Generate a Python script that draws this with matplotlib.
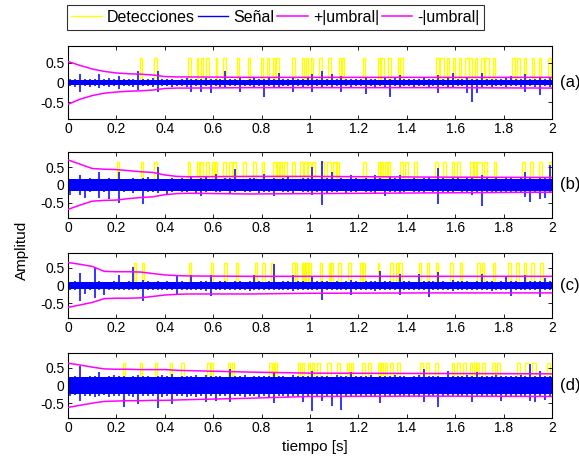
import numpy as np
import matplotlib
matplotlib.use("Agg")
import matplotlib.pyplot as plt

plt.rcParams['font.family'] = ['Liberation Sans', 'DejaVu Sans']

# ---------------- data ----------------
PANEL_LABELS = ["(a)", "(b)", "(c)", "(d)"]
X_TICKS = [0, 0.2, 0.4, 0.6, 0.8, 1, 1.2, 1.4, 1.6, 1.8, 2]
Y_TICKS = [-0.5, 0, 0.5]
LEGEND_LABELS = ["Detecciones", "Señal", "+|umbral|", "-|umbral|"]
DET_LEVEL = 0.63
BIN_W = 0.02  # width of one envelope bin [s]

# dense noise core of the signal (+/-) per panel
CORE = [0.075, 0.16, 0.10, 0.24]

# signal envelope per 0.02 s bin (hundredths): max and |min|
A_HI = [9, 10, 22, 9, 10, 8, 21, 9, 11, 8, 17, 8, 10, 9, 28, 10, 8, 12, 28, 9,
        8, 10, 7, 9, 12, 10, 8, 9, 11, 8, 10, 9, 28, 8, 10, 12, 7, 9, 11, 8,
        10, 14, 9, 25, 8, 10, 15, 9, 8, 11, 22, 9, 28, 10, 22, 8, 17, 9, 10, 8,
        9, 12, 8, 10, 7, 11, 9, 12, 20, 9, 8, 10, 9, 11, 8, 10, 20, 9, 11, 24,
        9, 10, 12, 9, 10, 25, 9, 8, 10, 9, 11, 17, 9, 10, 22, 8, 10, 12, 9, 15]
A_LO = [10, 11, 23, 10, 12, 9, 13, 10, 11, 9, 17, 10, 9, 11, 19, 9, 10, 12, 23, 10,
        9, 11, 8, 10, 12, 25, 9, 25, 10, 27, 9, 11, 13, 9, 10, 23, 8, 10, 12, 9,
        36, 10, 11, 13, 9, 10, 25, 9, 11, 10, 23, 10, 12, 9, 13, 10, 25, 9, 11, 10,
        9, 29, 10, 11, 9, 12, 36, 10, 11, 9, 10, 12, 9, 10, 11, 9, 27, 10, 12, 11,
        9, 10, 27, 50, 27, 11, 10, 12, 9, 10, 11, 10, 9, 12, 23, 10, 11, 31, 10, 12]
B_HI = [18, 16, 27, 17, 19, 16, 35, 18, 20, 17, 35, 18, 16, 20, 17, 19, 21, 16, 50, 18,
        17, 19, 16, 20, 18, 26, 17, 19, 21, 18, 30, 17, 19, 20, 45, 18, 17, 20, 19, 16,
        32, 18, 20, 17, 19, 22, 18, 17, 20, 19, 50, 18, 67, 19, 36, 18, 20, 17, 28, 19,
        18, 20, 17, 29, 19, 18, 21, 19, 29, 18, 17, 20, 18, 19, 21, 18, 47, 19, 17, 20,
        19, 18, 21, 19, 18, 27, 19, 17, 20, 18, 19, 21, 18, 20, 36, 19, 18, 20, 19, 55]
B_LO = [29, 18, 27, 36, 19, 17, 36, 20, 39, 18, 50, 19, 17, 21, 18, 52, 19, 20, 22, 18,
        27, 19, 17, 20, 19, 18, 21, 31, 19, 18, 20, 19, 17, 21, 19, 18, 20, 19, 18, 22,
        20, 19, 31, 18, 20, 19, 21, 18, 20, 19, 27, 20, 56, 21, 19, 20, 18, 21, 19, 20,
        18, 20, 19, 21, 18, 31, 19, 20, 22, 19, 18, 20, 19, 21, 18, 20, 53, 19, 21, 20,
        18, 20, 19, 28, 21, 59, 20, 19, 21, 20, 19, 21, 20, 19, 33, 47, 20, 40, 35, 21]
C_HI = [10, 12, 35, 11, 9, 49, 12, 10, 11, 13, 29, 10, 12, 52, 11, 15, 13, 10, 12, 11,
        13, 10, 31, 12, 11, 29, 10, 12, 14, 29, 11, 13, 12, 10, 14, 12, 11, 13, 29, 12,
        10, 13, 61, 11, 12, 14, 31, 12, 13, 11, 25, 12, 14, 13, 11, 12, 10, 13, 15, 12,
        11, 13, 12, 14, 41, 12, 13, 11, 33, 12, 14, 11, 33, 12, 13, 14, 38, 12, 11, 15,
        13, 12, 14, 11, 13, 33, 12, 14, 11, 13, 27, 12, 14, 11, 29, 13, 12, 14, 20, 12]
C_LO = [12, 13, 44, 25, 12, 35, 13, 27, 12, 14, 13, 12, 14, 13, 12, 45, 13, 12, 14, 13,
        12, 14, 26, 13, 12, 14, 13, 12, 15, 30, 12, 14, 13, 12, 14, 13, 12, 15, 13, 12,
        14, 13, 12, 14, 13, 12, 15, 13, 12, 14, 13, 12, 42, 13, 12, 14, 13, 12, 28, 13,
        14, 12, 13, 15, 12, 14, 13, 12, 26, 13, 12, 14, 13, 12, 32, 13, 14, 12, 13, 15,
        12, 14, 13, 12, 14, 13, 12, 15, 13, 12, 14, 30, 13, 12, 14, 13, 12, 32, 13, 14]
D_HI = [25, 27, 56, 24, 28, 26, 38, 25, 27, 29, 26, 28, 25, 27, 30, 26, 28, 25, 27, 29,
        26, 33, 25, 28, 26, 27, 29, 25, 30, 27, 26, 28, 25, 47, 27, 26, 29, 25, 28, 27,
        26, 28, 38, 26, 27, 25, 29, 26, 28, 27, 40, 26, 28, 27, 25, 29, 27, 26, 38, 28,
        26, 27, 29, 25, 28, 26, 27, 29, 26, 28, 25, 27, 29, 47, 26, 28, 27, 25, 40, 28,
        26, 27, 29, 26, 38, 27, 28, 26, 29, 27, 26, 28, 27, 29, 26, 61, 28, 40, 26, 28]
D_LO = [30, 28, 44, 31, 29, 32, 30, 28, 33, 31, 29, 62, 30, 32, 51, 29, 31, 30, 65, 32,
        29, 53, 31, 30, 33, 29, 32, 30, 48, 31, 45, 30, 29, 46, 31, 30, 32, 29, 31, 33,
        30, 32, 50, 31, 30, 32, 29, 31, 46, 30, 71, 31, 45, 30, 57, 32, 69, 31, 33, 30,
        32, 31, 29, 33, 50, 31, 30, 32, 29, 31, 33, 30, 32, 46, 31, 29, 62, 32, 30, 31,
        33, 30, 32, 48, 31, 29, 32, 30, 31, 43, 30, 32, 31, 29, 33, 45, 46, 31, 40, 32]

# threshold knots
T_KNOTS = [0, 0.05, 0.1, 0.15, 0.2, 0.25, 0.3, 0.35, 0.4, 0.45, 0.5, 0.75, 1.0, 1.5, 2.0]
A_UP = [0.53, 0.43, 0.34, 0.28, 0.24, 0.22, 0.21, 0.19, 0.15, 0.14, 0.14, 0.13, 0.13, 0.13, 0.13]
A_DN = [-0.55, -0.42, -0.33, -0.27, -0.24, -0.22, -0.21, -0.19, -0.15, -0.14, -0.14, -0.13, -0.13, -0.13, -0.14]
B_UP = [0.70, 0.58, 0.46, 0.44, 0.43, 0.40, 0.37, 0.35, 0.28, 0.24, 0.23, 0.24, 0.24, 0.22, 0.21]
B_DN = [-0.68, -0.56, -0.45, -0.43, -0.42, -0.38, -0.35, -0.33, -0.27, -0.24, -0.23, -0.25, -0.24, -0.22, -0.20]
C_UP = [0.65, 0.60, 0.54, 0.40, 0.39, 0.39, 0.38, 0.34, 0.30, 0.28, 0.27, 0.26, 0.26, 0.26, 0.26]
C_DN = [-0.62, -0.55, -0.48, -0.37, -0.36, -0.36, -0.35, -0.31, -0.27, -0.25, -0.24, -0.24, -0.22, -0.21, -0.21]
D_UP = [0.63, 0.58, 0.52, 0.47, 0.46, 0.46, 0.45, 0.45, 0.45, 0.43, 0.42, 0.38, 0.35, 0.34, 0.33]
D_DN = [-0.62, -0.56, -0.50, -0.45, -0.44, -0.43, -0.43, -0.42, -0.42, -0.41, -0.40, -0.36, -0.31, -0.30, -0.31]

# detection intervals (start, end) [s]
A_DET = [(0.297, 0.306), (0.356, 0.366), (0.494, 0.510), (0.531, 0.539), (0.548, 0.559),
         (0.572, 0.581), (0.610, 0.617), (0.641, 0.651), (0.697, 0.708), (0.742, 0.752),
         (0.799, 0.807), (0.823, 0.832), (0.846, 0.855), (0.859, 0.870), (0.927, 0.937),
         (0.966, 0.975), (0.982, 0.993), (1.003, 1.014), (1.039, 1.048), (1.073, 1.086),
         (1.119, 1.130), (1.132, 1.141), (1.221, 1.229), (1.279, 1.290), (1.294, 1.306),
         (1.324, 1.334), (1.363, 1.370), (1.372, 1.386), (1.521, 1.531), (1.538, 1.552),
         (1.566, 1.575), (1.590, 1.600), (1.614, 1.625), (1.641, 1.655), (1.659, 1.669),
         (1.683, 1.692), (1.706, 1.717), (1.722, 1.738), (1.757, 1.766), (1.834, 1.848),
         (1.855, 1.866), (1.883, 1.892), (1.917, 1.927), (1.948, 1.956), (1.985, 1.995)]
B_DET = [(0.203, 0.211), (0.301, 0.310), (0.356, 0.366), (0.497, 0.506), (0.531, 0.540),
         (0.546, 0.556), (0.572, 0.584), (0.593, 0.602), (0.606, 0.614), (0.640, 0.652),
         (0.667, 0.676), (0.683, 0.695), (0.724, 0.735), (0.765, 0.777), (0.800, 0.810),
         (0.848, 0.858), (0.862, 0.872), (0.876, 0.886), (0.892, 0.904), (0.924, 0.936),
         (0.959, 0.970), (0.976, 0.986), (0.993, 1.003), (1.008, 1.021), (1.045, 1.056),
         (1.072, 1.086), (1.097, 1.107), (1.111, 1.121), (1.221, 1.231), (1.279, 1.290),
         (1.293, 1.300), (1.310, 1.318), (1.322, 1.331), (1.372, 1.386), (1.393, 1.407),
         (1.431, 1.444), (1.517, 1.530), (1.548, 1.560), (1.586, 1.596), (1.607, 1.618),
         (1.662, 1.675), (1.679, 1.686), (1.690, 1.710), (1.717, 1.731), (1.759, 1.770),
         (1.876, 1.890), (1.910, 1.922), (1.945, 1.957), (1.988, 2.0)]
C_DET = [(0.272, 0.280), (0.305, 0.314), (0.501, 0.509), (0.590, 0.599), (0.646, 0.655),
         (0.694, 0.703), (0.772, 0.782), (0.803, 0.812), (0.837, 0.846), (0.927, 0.936),
         (0.938, 0.945), (0.966, 0.972), (0.975, 0.980), (0.984, 0.990), (0.995, 1.003),
         (1.041, 1.051), (1.077, 1.084), (1.087, 1.094), (1.117, 1.127), (1.157, 1.168),
         (1.207, 1.216), (1.220, 1.229), (1.279, 1.287), (1.331, 1.341), (1.356, 1.362),
         (1.366, 1.379), (1.451, 1.459), (1.483, 1.492), (1.520, 1.528), (1.579, 1.589),
         (1.618, 1.628), (1.692, 1.701), (1.710, 1.721), (1.756, 1.766), (1.818, 1.830),
         (1.851, 1.862), (1.883, 1.892), (1.913, 1.924), (1.952, 1.961)]
D_DET = [(0.228, 0.237), (0.297, 0.307), (0.359, 0.369), (0.421, 0.431), (0.469, 0.479),
         (0.575, 0.586), (0.590, 0.600), (0.662, 0.671), (0.676, 0.685), (0.831, 0.841),
         (0.845, 0.853), (0.856, 0.865), (0.949, 0.958), (0.965, 0.976), (0.990, 1.000),
         (1.007, 1.017), (1.028, 1.041), (1.072, 1.086), (1.110, 1.124), (1.152, 1.162),
         (1.168, 1.179), (1.214, 1.228), (1.241, 1.251), (1.280, 1.290), (1.294, 1.303),
         (1.310, 1.320), (1.331, 1.345), (1.359, 1.372), (1.455, 1.469), (1.480, 1.490),
         (1.517, 1.527), (1.586, 1.596), (1.607, 1.618), (1.634, 1.644), (1.662, 1.669),
         (1.676, 1.686), (1.689, 1.697), (1.710, 1.724), (1.752, 1.766), (1.772, 1.786),
         (1.855, 1.866), (1.890, 1.903), (1.917, 1.935), (1.979, 1.990)]

PANELS = [
    (A_HI, A_LO, A_UP, A_DN, A_DET),
    (B_HI, B_LO, B_UP, B_DN, B_DET),
    (C_HI, C_LO, C_UP, C_DN, C_DET),
    (D_HI, D_LO, D_UP, D_DN, D_DET),
]

# axes boxes in pixels: (left, top, right, bottom)
BOXES = [(68, 46, 552, 119), (68, 152, 552, 218), (68, 253, 552, 318), (68, 353, 552, 418)]

W, H = 579, 459
fig = plt.figure(figsize=(W / 100, H / 100), dpi=100)
BLUE, YELLOW, MAGENTA = (0, 0, 1), (1, 1, 0), (1, 0, 1)

handles = None
for (hi, lo, up, dn, det), core, box, lab in zip(PANELS, CORE, BOXES, PANEL_LABELS):
    l, t, r, b = box
    ax = fig.add_axes([l / W, 1 - b / H, (r - l) / W, (b - t) / H])

    # detections as a step (0 / level) trace
    dx, dy = [0.0], [0.0]
    for s, e in det:
        dx += [s, s, e, e]
        dy += [0.0, DET_LEVEL, DET_LEVEL, 0.0]
    dx.append(2.0)
    dy.append(0.0)
    h1, = ax.plot(dx, dy, color=YELLOW, lw=1.0, zorder=1)

    # signal: dense core + per-bin extreme excursions
    n = len(hi)
    centers = (np.arange(n) + 0.5) * BIN_W
    ax.fill_between([0, 2], [-core, -core], [core, core], color=BLUE, lw=0, zorder=2)
    ax.vlines(centers, -np.array(lo) / 100.0, np.array(hi) / 100.0,
              color=BLUE, lw=1.1, zorder=2)
    h2, = ax.plot([], [], color=BLUE, lw=1.0)

    h3, = ax.plot(T_KNOTS, up, color=MAGENTA, lw=1.1, zorder=3)
    h4, = ax.plot(T_KNOTS, dn, color=MAGENTA, lw=1.1, zorder=3)
    if handles is None:
        handles = [h1, h2, h3, h4]

    ax.set_xlim(0, 2)
    ax.set_ylim(-0.92, 0.92)
    ax.set_xticks(X_TICKS)
    ax.set_xticklabels(["0", "0.2", "0.4", "0.6", "0.8", "1", "1.2", "1.4", "1.6", "1.8", "2"])
    ax.set_yticks(Y_TICKS)
    ax.set_yticklabels(["-0.5", "0", "0.5"])
    ax.tick_params(direction='in', top=True, right=True, length=3, width=0.6,
                   labelsize=10, pad=2.5)
    for sp in ax.spines.values():
        sp.set_linewidth(0.8)
    ax.text(1.016, 0.5, lab, transform=ax.transAxes, fontsize=12,
            va='center', ha='left')

fig.text(22 / W, 1 - 250 / H, "Amplitud", rotation=90, fontsize=11,
         ha='center', va='center')
fig.text(315 / W, 1 - 447 / H, "tiempo [s]", fontsize=11, ha='center', va='center')

leg = fig.legend(handles, LEGEND_LABELS, loc='upper left',
                 bbox_to_anchor=(66.7 / W, 1 - 5 / H), ncol=4, fontsize=11.5,
                 frameon=True, fancybox=False, edgecolor='black',
                 handlelength=1.9, handletextpad=0.31, columnspacing=0.2,
                 borderpad=0.3, borderaxespad=0)
leg.get_frame().set_linewidth(0.8)

fig.savefig("out.png", dpi=100)
